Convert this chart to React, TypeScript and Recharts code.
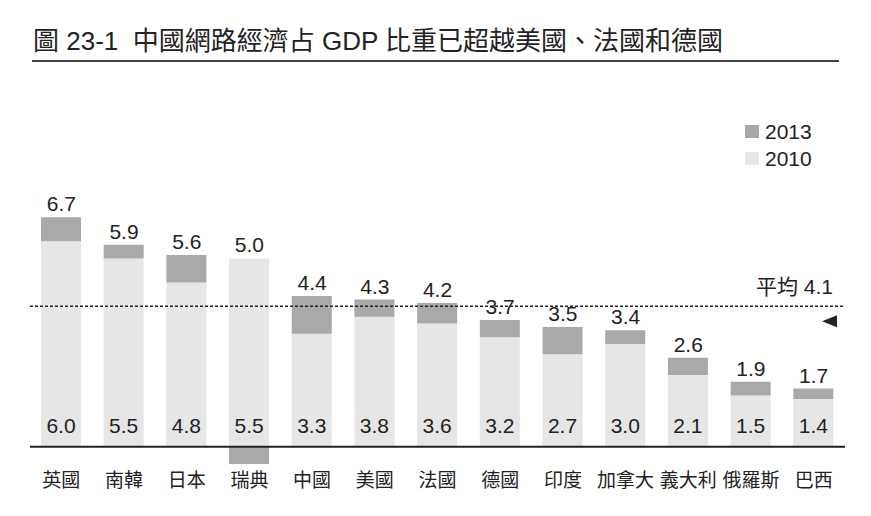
import React from 'react';
import {
  ComposedChart,
  Bar,
  Line,
  XAxis,
  YAxis,
  ReferenceLine,
  LabelList,
} from 'recharts';

const countries = ['英國', '南韓', '日本', '瑞典', '中國', '美國', '法國', '德國', '印度', '加拿大', '義大利', '俄羅斯', '巴西'];
const share2013 = [6.7, 5.9, 5.6, 5.0, 4.4, 4.3, 4.2, 3.7, 3.5, 3.4, 2.6, 1.9, 1.7];
const share2010 = [6.0, 5.5, 4.8, 5.5, 3.3, 3.8, 3.6, 3.2, 2.7, 3.0, 2.1, 1.5, 1.4];
const average = 4.1;

const FONT = "'Liberation Sans', 'Noto Sans CJK TC', sans-serif";
const DARK = '#a9a9a9';
const LIGHT = '#e6e6e6';
const INK = '#222';

// 2010 is the base, the 2013 change is stacked on top (negative goes below zero)
const data = countries.map((name, i) => ({
  name,
  y2010: share2010[i],
  y2013: share2013[i],
  change: Math.round((share2013[i] - share2010[i]) * 10) / 10,
  top: Math.max(share2010[i], share2013[i]),
}));

const BottomLabel = (props: any) => {
  const { x, y, width, height, value } = props;
  return (
    <text x={x + width / 2} y={y + height - 14} textAnchor="middle" fontSize={21} fill={INK} fontFamily={FONT}>
      {Number(value).toFixed(1)}
    </text>
  );
};

const AverageLabel = (props: any) => {
  const { viewBox } = props;
  const right = viewBox.x + viewBox.width;
  const y = viewBox.y;
  return (
    <g>
      <text x={right - 12} y={y - 12} textAnchor="end" fontSize={21} fill={INK} fontFamily={FONT}>
        平均 {average.toFixed(1)}
      </text>
      <polygon points={`${right - 8},${y + 9} ${right - 8},${y + 21} ${right - 23},${y + 15}`} fill={INK} />
    </g>
  );
};

export default function App() {
  return (
    <div style={{ position: 'absolute', left: 0, top: 0, width: 871, height: 516, background: '#fff', fontFamily: FONT }}>
      <div style={{ position: 'absolute', left: 33, top: 28, fontSize: 26, lineHeight: '26px', color: INK, whiteSpace: 'pre' }}>
        {'圖 23-1  中國網路經濟占 GDP 比重已超越美國、法國和德國'}
      </div>
      <div style={{ position: 'absolute', left: 32, top: 60, width: 807, height: 2, background: '#444' }} />

      {/* legend */}
      <div style={{ position: 'absolute', left: 745, top: 118, fontSize: 21, color: INK }}>
        {[
          { label: '2013', color: DARK },
          { label: '2010', color: LIGHT },
        ].map((item) => (
          <div key={item.label} style={{ display: 'flex', alignItems: 'center', height: 27 }}>
            <span style={{ width: 14, height: 13, background: item.color, marginRight: 6, display: 'inline-block' }} />
            <span>{item.label}</span>
          </div>
        ))}
      </div>

      <ComposedChart
        width={871}
        height={516}
        data={data}
        stackOffset="sign"
        margin={{ top: 207, right: 26, left: 30, bottom: 22 }}
      >
        <XAxis
          dataKey="name"
          axisLine={false}
          tickLine={false}
          tickSize={0}
          tickMargin={10}
          height={30}
          interval={0}
          tick={{ fontSize: 19, fill: INK, fontFamily: FONT }}
        />
        <YAxis hide type="number" domain={[-0.5, 7]} allowDataOverflow />
        <Bar dataKey="y2010" stackId="a" fill={LIGHT} barSize={40} isAnimationActive={false}>
          <LabelList dataKey="y2010" content={BottomLabel} />
        </Bar>
        <Bar dataKey="change" stackId="a" fill={DARK} barSize={40} isAnimationActive={false} />
        <ReferenceLine y={0} stroke={INK} strokeWidth={2} />
        <ReferenceLine y={average} stroke="#222" strokeWidth={1.5} strokeDasharray="3 2" label={<AverageLabel />} />
        <Line
          dataKey="top"
          stroke="none"
          dot={false}
          activeDot={false}
          isAnimationActive={false}
        >
          <LabelList
            dataKey="y2013"
            position="top"
            offset={6}
            fontSize={21}
            fill={INK}
            fontFamily={FONT}
            formatter={(v: any) => Number(v).toFixed(1)}
          />
        </Line>
      </ComposedChart>
    </div>
  );
}
